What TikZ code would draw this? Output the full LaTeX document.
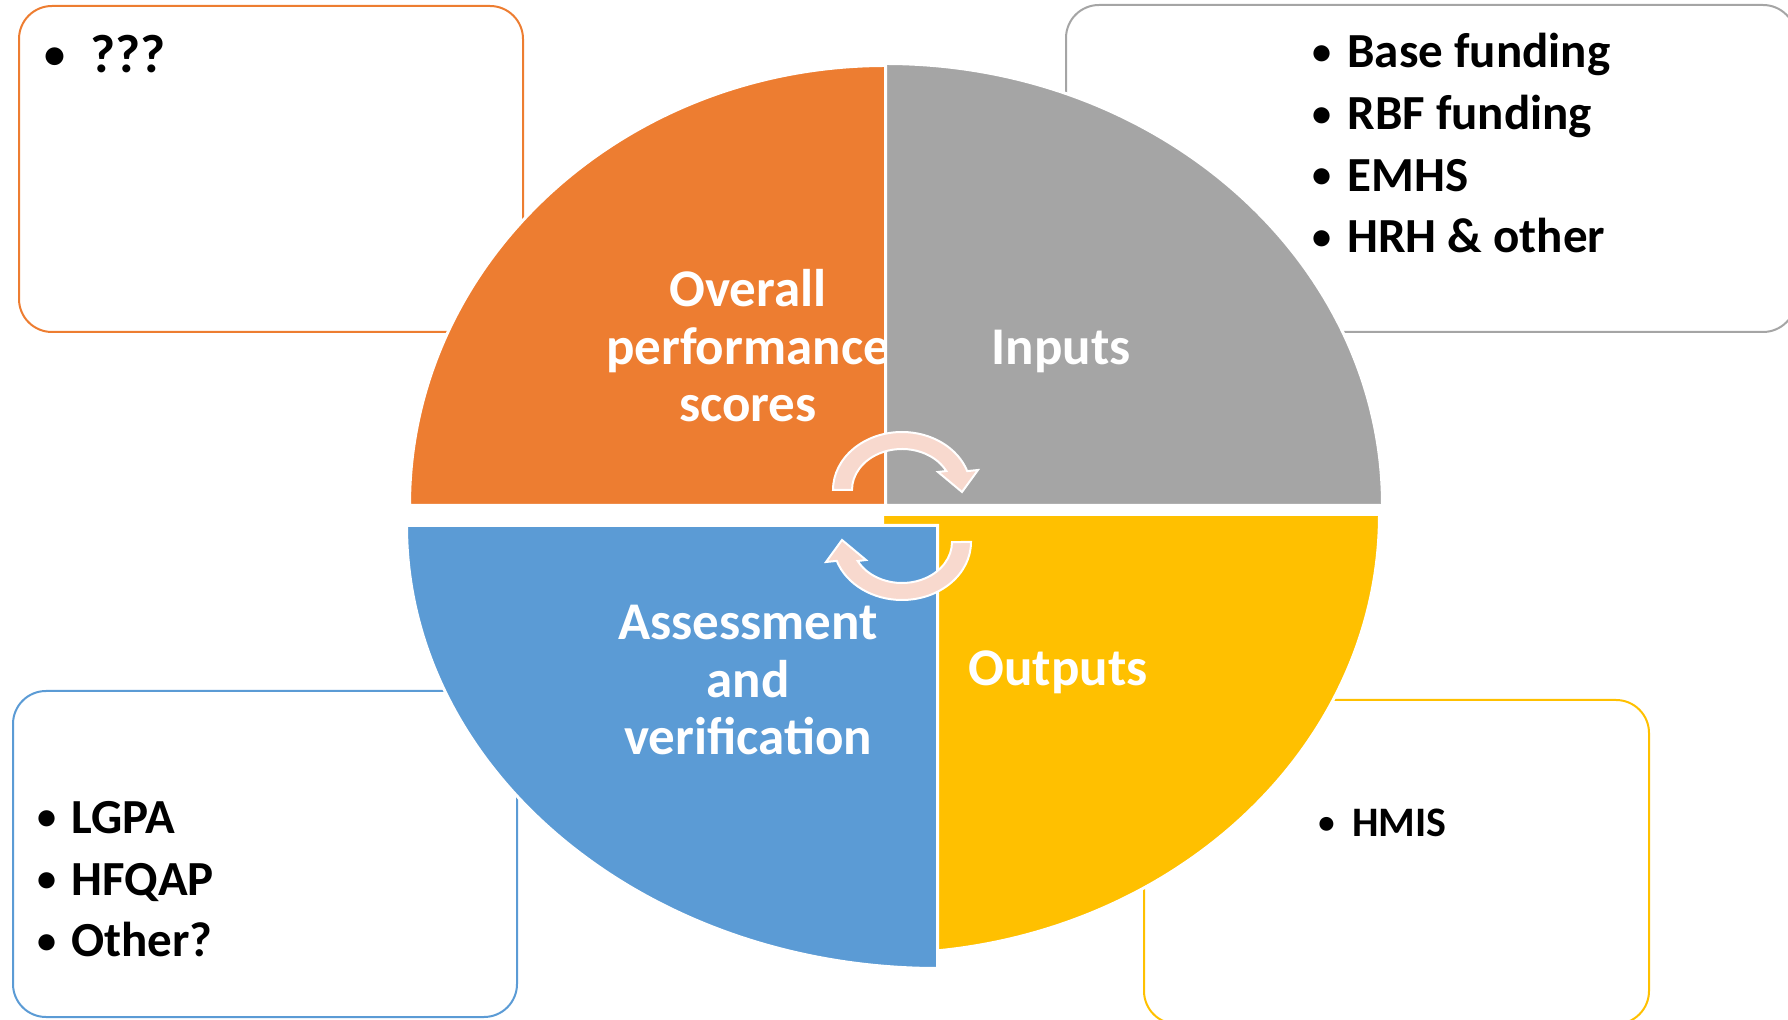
\documentclass[tikz,border=0pt]{standalone}
\usepackage{fontspec}
\setmainfont{Carlito}

\definecolor{qorange}{HTML}{ED7D31}
\definecolor{qgray}{HTML}{A5A5A5}
\definecolor{qyellow}{HTML}{FFC000}
\definecolor{qblue}{HTML}{5B9BD5}
\definecolor{arrowpink}{HTML}{F8D9CE}

% small bullet hanging left of the item text, centred #1 before it
\newcommand\bl[1]{\llap{\makebox[0pt]{\raisebox{0.07em}{\scalebox{0.78}{\textbullet}}}\hspace{#1}}}

% one circular arrow of the cycle (centre 902,490)
\newcommand\cyclearrow{%
  (833,490) arc[start angle=180, end angle=341, x radius=69, y radius=58]
  -- (978,470) -- (962,492) -- (938,472) -- (946.3,471)
  arc[start angle=332.4, end angle=180, x radius=50, y radius=41] -- cycle}

\begin{document}
\begin{tikzpicture}[x=0.5pt,y=-0.5pt,
  quad/.style={draw=white, line width=1.5pt},
  infobox/.style={line width=1pt, rounded corners=16.5pt},
  lbl/.style={text=white, font=\bfseries\fontsize{26.5pt}{28.75pt}\selectfont,
              align=center, inner sep=0pt},
  itemlist/.style={text=black, font=\bfseries\fontsize{24.5pt}{30.85pt}\selectfont,
              align=left, inner sep=0pt, anchor=north west},
  cyc/.style={fill=arrowpink, draw=white, line width=1pt}]

\useasboundingbox (0,0) rectangle (1788,1020);

% outer rounded boxes
\draw[infobox, qorange] (19,6) rectangle (523,332);
\draw[infobox, qgray]   (1066,5) rectangle (1796,332);
\draw[infobox, qblue]   (13,691) rectangle (517,1017);
\draw[infobox, qyellow] (1144,700) rectangle (1649,1024);

% box contents
\node[itemlist, font=\bfseries\fontsize{27pt}{30.85pt}\selectfont]
  (lst-scores) at (90,28.8) {\strut\bl{17.5pt}???};
\node[itemlist] (lst-inputs) at (1347,24.3)
  {\strut\bl{12.5pt}Base funding\\\strut\bl{12.5pt}RBF funding\\
   \strut\bl{12.5pt}EMHS\\\strut\bl{12.5pt}HRH \& other};
\node[itemlist] (lst-assess) at (71,789.8)
  {\strut\bl{12pt}LGPA\\\strut\bl{12pt}HFQAP\\\strut\bl{12pt}Other?};
\node[itemlist, font=\bfseries\fontsize{21pt}{30.85pt}\selectfont]
  (lst-outputs) at (1352,792.8) {\strut\bl{13pt}HMIS};

% four quarters of the cycle
\fill[qorange, quad] (885.5,505.5) -- (409.5,505.5)
  arc[start angle=180, end angle=270, x radius=476, y radius=440] -- cycle;
\node[lbl] (scores) at (748,353)
  {\strut Overall\\\strut performance\\\strut scores};

\fill[qgray, quad] (885.5,505.5) -- (885.5,63.5)
  arc[start angle=270, end angle=360, x radius=497, y radius=442] -- cycle;
\node[lbl, anchor=base] (inputs) at (1061,365) {Inputs};

\fill[qyellow, quad] (882.5,514.5) -- (1379.5,514.5)
  arc[start angle=0, end angle=90, x radius=497, y radius=439] -- cycle;
\node[lbl, anchor=base] (outputs) at (1058,686) {Outputs};

\fill[qblue, quad] (937.5,525.5) -- (937.5,968.5)
  arc[start angle=90, end angle=180, x radius=531, y radius=443] -- cycle;
\node[lbl] (assess) at (748,686)
  {\strut Assessment\\\strut and\\\strut verification};

% circular arrows in the middle
\filldraw[cyc] \cyclearrow;
\begin{scope}[rotate around={180:(902,516)}]
  \filldraw[cyc] \cyclearrow;
\end{scope}
\end{tikzpicture}
\end{document}
